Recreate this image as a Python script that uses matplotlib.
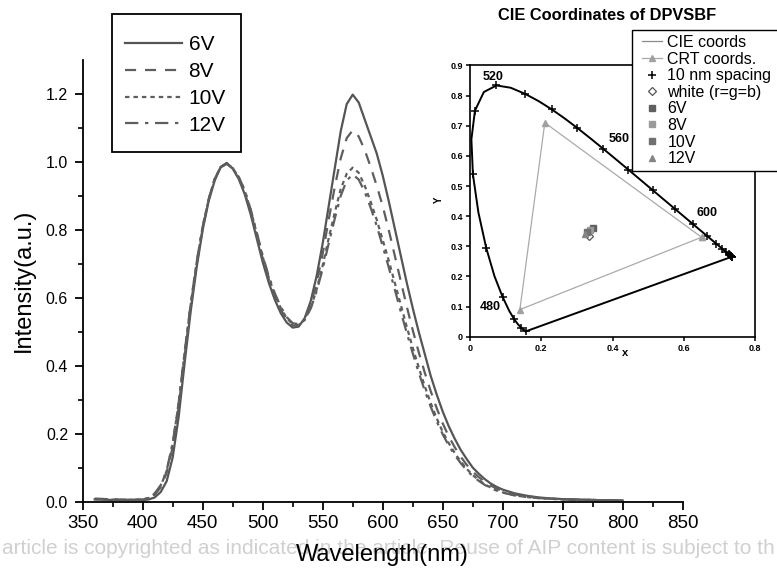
import matplotlib
matplotlib.use('Agg')
import matplotlib.pyplot as plt
from matplotlib.patches import Rectangle
from matplotlib.lines import Line2D
from matplotlib.ticker import MultipleLocator, FormatStrFormatter

plt.rcParams['font.family'] = ['Liberation Sans', 'DejaVu Sans']

# --- EL spectra (normalised) ---
wavelength = [360, 370, 380, 390, 400,
              405, 410, 415, 420, 425, 430, 435, 440, 445, 450, 455, 460, 465, 470,
              475, 480, 485, 490, 495, 500, 505, 510, 515, 520, 525, 530, 535, 540,
              545, 550, 555, 560, 565, 570, 575, 580, 585, 590, 595, 600, 605, 610,
              615, 620, 625, 630, 635, 640, 645, 650, 655, 660, 665, 670, 675, 680,
              685, 690, 695, 700,
              710, 720, 730, 740, 750, 760, 770, 780, 790, 800]

v6 = [.006, .005, .004, .004, .004,
      .006, .012, .028, .060, .130, .250, .410, .560, .690, .800, .885, .945, .985, .997,
      .980, .950, .905, .845, .775, .705, .645, .595, .555, .527, .512, .515, .540, .590,
      .665, .760, .870, .980, 1.09, 1.170, 1.198, 1.175, 1.125, 1.075, 1.025, .960, .885, .805,
      .725, .645, .570, .500, .435, .370, .315, .265, .222, .185, .152, .125, .100, .082,
      .066, .053, .043, .035,
      .024, .017, .012, .009, .007, .006, .005, .004, .004, .003]

v8 = [.008, .007, .006, .005, .006,
      .009, .020, .042, .085, .160, .280, .430, .575, .700, .805, .890, .950, .985, .995,
      .980, .952, .910, .852, .785, .715, .655, .605, .565, .535, .518, .518, .538, .580,
      .645, .730, .830, .925, 1.010, 1.070, 1.093, 1.075, 1.035, .985, .930, .870, .800, .725,
      .650, .575, .505, .440, .380, .325, .275, .230, .192, .160, .132, .108, .088, .072,
      .058, .047, .038, .031,
      .021, .015, .011, .008, .007, .006, .005, .004, .004, .003]

v10 = [.007, .006, .005, .005, .006,
       .010, .022, .046, .090, .170, .290, .440, .580, .705, .810, .890, .950, .985, .995,
       .982, .955, .915, .858, .790, .720, .660, .610, .570, .540, .522, .520, .535, .570,
       .625, .695, .775, .850, .920, .965, .983, .968, .930, .882, .830, .770, .710, .645,
       .580, .515, .453, .395, .340, .290, .245, .205, .172, .143, .118, .096, .078, .063,
       .051, .041, .033, .027,
       .018, .013, .010, .008, .006, .005, .005, .004, .004, .003]

v12 = [.008, .007, .006, .005, .006,
       .011, .024, .048, .092, .172, .292, .442, .582, .706, .810, .890, .950, .984, .994,
       .982, .956, .917, .860, .793, .724, .664, .614, .574, .543, .525, .522, .535, .568,
       .620, .685, .760, .832, .900, .945, .963, .948, .912, .865, .812, .752, .690, .625,
       .560, .497, .437, .380, .327, .279, .236, .198, .165, .137, .113, .092, .075, .061,
       .049, .040, .032, .026,
       .018, .013, .010, .008, .006, .005, .005, .004, .004, .003]

# --- CIE 1931 spectral locus, 5 nm table (450-700 nm) ---
locus_nm = [450, 455, 460, 465, 470, 475, 480, 485, 490, 495, 500, 505, 510, 515,
            520, 525, 530, 535, 540, 545, 550, 555, 560, 565, 570, 575, 580, 585,
            590, 595, 600, 605, 610, 615, 620, 625, 630, 640, 650, 660, 670, 680,
            690, 700]
locus_x = [0.1566, 0.1510, 0.1440, 0.1355, 0.1241, 0.1096, 0.0913, 0.0687, 0.0454,
           0.0235, 0.0082, 0.0039, 0.0139, 0.0389, 0.0743, 0.1142, 0.1547, 0.1929,
           0.2296, 0.2658, 0.3016, 0.3373, 0.3731, 0.4087, 0.4441, 0.4788, 0.5125,
           0.5448, 0.5752, 0.6029, 0.6270, 0.6482, 0.6658, 0.6801, 0.6915, 0.7006,
           0.7079, 0.7190, 0.7260, 0.7300, 0.7320, 0.7334, 0.7344, 0.7347]
locus_y = [0.0177, 0.0227, 0.0297, 0.0399, 0.0578, 0.0868, 0.1327, 0.2007, 0.2950,
           0.4127, 0.5384, 0.6548, 0.7502, 0.8120, 0.8338, 0.8262, 0.8059, 0.7816,
           0.7543, 0.7243, 0.6923, 0.6589, 0.6245, 0.5896, 0.5547, 0.5202, 0.4866,
           0.4544, 0.4242, 0.3965, 0.3725, 0.3514, 0.3340, 0.3197, 0.3083, 0.2993,
           0.2920, 0.2809, 0.2740, 0.2700, 0.2680, 0.2666, 0.2656, 0.2653]
marker_nm = list(range(450, 701, 10))
locus_labels = {'520': (0.065, 0.862), '560': (0.418, 0.657),
                '600': (0.664, 0.412), '480': (0.056, 0.100)}

crt_x = [0.65, 0.21, 0.14, 0.65]
crt_y = [0.33, 0.71, 0.09, 0.33]
white_xy = (0.333, 0.333)
dev_labels = ['6V', '8V', '10V', '12V']
dev_x = [0.344, 0.337, 0.328, 0.324]
dev_y = [0.362, 0.355, 0.347, 0.341]
dev_marker = ['s', 's', 's', '^']
dev_color = ['#606060', '#9a9a9a', '#707070', '#858585']

fig = plt.figure(figsize=(7.77, 5.71), dpi=100)

# watermark line behind the x label
fig.text(0.002, 1 - 548 / 571,
         'article is copyrighted as indicated in the article. Reuse of AIP content is subject to th',
         color='#d0d0d0', fontsize=15, ha='left', va='center', zorder=-1)

ax = fig.add_axes([82.7 / 777, 1 - 501.5 / 571, 600 / 777, 441.5 / 571])
grey = '#5e5e5e'
ax.plot(wavelength, v6, color='#555555', lw=1.6, ls='-', label='6V')
ax.plot(wavelength, v8, color=grey, lw=1.6, ls=(0, (5, 4)), label='8V')
ax.plot(wavelength, v10, color=grey, lw=1.6, ls=(0, (2, 1.8)), label='10V')
ax.plot(wavelength, v12, color=grey, lw=1.6, ls=(0, (6, 3, 1.5, 3)), label='12V')

ax.set_xlim(350, 850)
ax.set_ylim(0, 1.3)
ax.spines['top'].set_visible(False)
ax.spines['right'].set_visible(False)
for s in ('left', 'bottom'):
    ax.spines[s].set_linewidth(1.3)
ax.xaxis.set_major_locator(MultipleLocator(50))
ax.xaxis.set_minor_locator(MultipleLocator(25))
ax.set_yticks([0, 0.2, 0.4, 0.6, 0.8, 1.0, 1.2])
ax.set_yticks([0.1, 0.3, 0.5, 0.7, 0.9, 1.1], minor=True)
ax.yaxis.set_major_formatter(FormatStrFormatter('%.1f'))
ax.tick_params(which='major', direction='out', length=5.5, width=1.3, pad=5)
ax.tick_params(which='minor', direction='out', length=3.5, width=1.2)
ax.tick_params(axis='y', labelsize=11.5)
ax.tick_params(axis='x', labelsize=13.5, pad=4)
ax.set_xlabel('Wavelength(nm)', fontsize=17, labelpad=9)
ax.set_ylabel('Intensity(a.u.)', fontsize=17, labelpad=8)

fig.add_artist(Rectangle((112 / 777, 1 - 152 / 571), 129 / 777, 138 / 571,
                         transform=fig.transFigure, fill=False, ec='black', lw=1.3))
ax.legend(loc='upper left', bbox_to_anchor=(125 / 777, 1 - 35 / 571),
          bbox_transform=fig.transFigure, frameon=False, fontsize=15,
          handlelength=2.75, handletextpad=0.3, labelspacing=0.38,
          borderpad=0, borderaxespad=0)

# --- inset: CIE diagram ---
axi = fig.add_axes([470 / 777, 1 - 336.7 / 571, 285 / 777, 271.2 / 571])
axi.plot(locus_x + [locus_x[0]], locus_y + [locus_y[0]], color='black', lw=1.4)
tick_idx = [locus_nm.index(n) for n in marker_nm]
axi.plot([locus_x[i] for i in tick_idx], [locus_y[i] for i in tick_idx],
         ls='none', marker='+', color='black', ms=6, mew=1.1)
axi.plot(crt_x, crt_y, color='#aaaaaa', lw=0.9, marker='^', ms=4, mfc='#a0a0a0', mec='#a0a0a0')
axi.plot(*white_xy, marker='D', ms=4.5, mfc='white', mec='#555555', mew=0.9)
for lx, ly, mk, c in zip(dev_x, dev_y, dev_marker, dev_color):
    axi.plot(lx, ly, marker=mk, ms=4, color=c, ls='none')
for txt, (tx, ty) in locus_labels.items():
    axi.text(tx, ty, txt, fontsize=9, fontweight='bold', ha='center', va='center')

axi.set_xlim(0, 0.8)
axi.set_ylim(0, 0.9)
axi.set_xticks([0, 0.2, 0.4, 0.6, 0.8])
axi.set_xticklabels(['0', '0.2', '0.4', '0.6', '0.8'])
axi.set_yticks([0, 0.1, 0.2, 0.3, 0.4, 0.5, 0.6, 0.7, 0.8, 0.9])
axi.set_yticklabels(['0', '0.1', '0.2', '0.3', '0.4', '0.5', '0.6', '0.7', '0.8', '0.9'])
axi.tick_params(direction='out', length=3, width=1.1, labelsize=6.5, pad=2)
for lab in axi.get_xticklabels() + axi.get_yticklabels():
    lab.set_fontweight('bold')
for s in axi.spines.values():
    s.set_linewidth(1.2)
axi.set_xlabel('x', fontsize=8, fontweight='bold')
axi.xaxis.set_label_coords(0.544, -0.04)
axi.set_ylabel('Y', fontsize=7, fontweight='bold')
axi.yaxis.set_label_coords(-0.09, 0.504)

fig.text(607.5 / 777, 1 - 16 / 571, 'CIE Coordinates of DPVSBF', fontsize=11.8,
         fontweight='bold', ha='center', va='center')

fig.add_artist(Rectangle((631.7 / 777, 1 - 170.7 / 571), 0.25, 140.7 / 571,
                         transform=fig.transFigure, fc='white', ec='black', lw=1.0, zorder=4))
inset_handles = [
    Line2D([], [], color='#8a8a8a', lw=0.9),
    Line2D([], [], color='#aaaaaa', lw=0.9, marker='^', ms=4, mfc='#a0a0a0', mec='#a0a0a0'),
    Line2D([], [], ls='none', marker='+', color='black', ms=6, mew=1.1),
    Line2D([], [], ls='none', marker='D', ms=4.5, mfc='white', mec='#555555', mew=0.9),
] + [Line2D([], [], ls='none', marker=mk, ms=4, color=c) for mk, c in zip(dev_marker, dev_color)]
inset_labels = ['CIE coords', 'CRT coords.', '10 nm spacing', 'white (r=g=b)'] + dev_labels
fig.legend(inset_handles, inset_labels, loc='upper left',
           bbox_to_anchor=(641.7 / 777, 1 - 35 / 571), bbox_transform=fig.transFigure,
           frameon=False, fontsize=11.5, handlelength=1.3, handletextpad=0.3,
           labelspacing=0.1, borderpad=0, borderaxespad=0)

fig.savefig('out.png', dpi=100)
